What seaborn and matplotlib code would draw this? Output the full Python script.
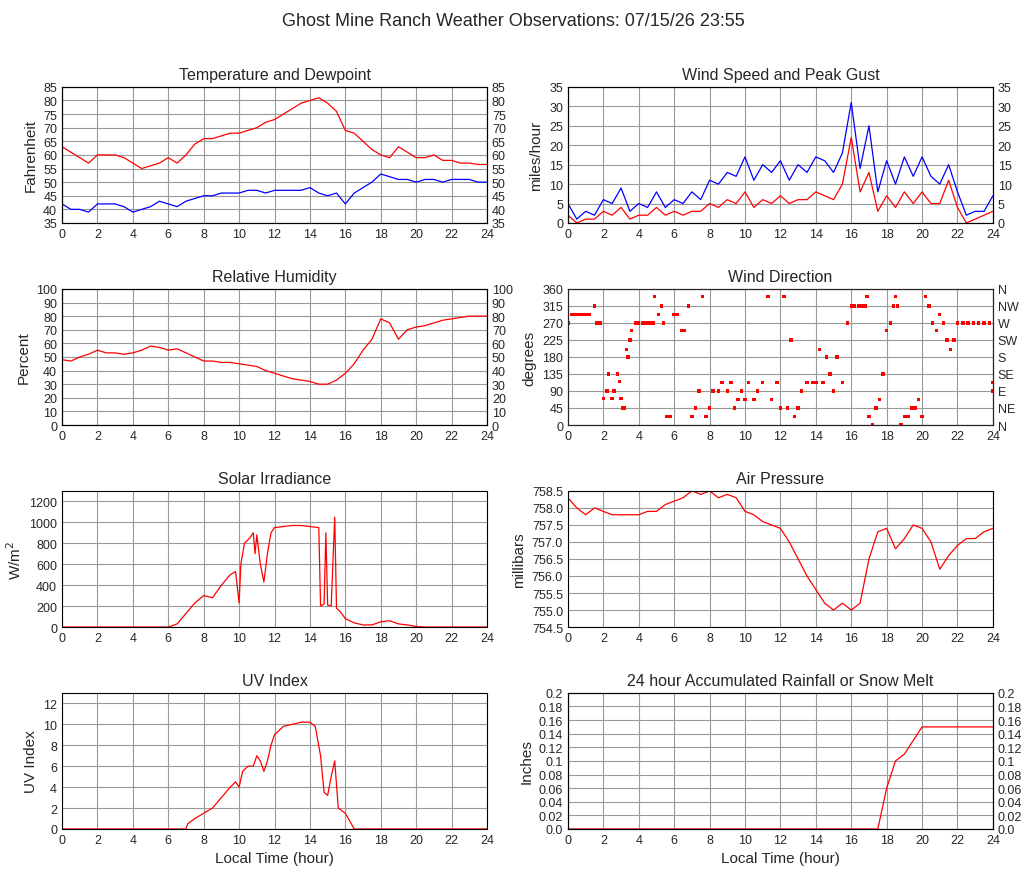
import matplotlib
matplotlib.use("Agg")
import matplotlib.pyplot as plt
import seaborn as sns
import numpy as np

sns.set_style("white")
plt.rcParams['font.family'] = ['Liberation Sans', 'DejaVu Sans']

H = [i*0.5 for i in range(49)]
temp = [63,61,59,57,60,60,60,59,57,55,56,57,59,57,60,64,66,66,67,68,68,69,70,72,73,75,77,79,80,81,79,76,69,68,65,62,60,59,63,61,59,59,60,58,58,57,57,56.5,56.5]
dew = [42,40,40,39,42,42,42,41,39,40,41,43,42,41,43,44,45,45,46,46,46,47,47,46,47,47,47,47,48,46,45,46,42,46,48,50,53,52,51,51,50,51,51,50,51,51,51,50,50]
gust = [5,1,3,2,6,5,9,3,5,4,8,4,6,5,8,6,11,10,13,12,17,11,15,13,16,11,15,13,17,16,13,18,31,14,25,8,16,10,17,12,17,12,10,15,8,2,3,3,7]
speed = [2,0,1,1,3,2,4,1,2,2,4,2,3,2,3,3,5,4,6,5,8,4,6,5,7,5,6,6,8,7,6,10,22,8,13,3,7,4,8,5,8,5,5,11,4,0,1,2,3]
rh = [48,47,50,52,55,53,53,52,53,55,58,57,55,56,53,50,47,47,46,46,45,44,43,40,38,36,34,33,32,30,30,33,38,45,55,63,78,75,63,70,72,73,75,77,78,79,80,80,80]
pres = [758.3,758,757.8,758,757.9,757.8,757.8,757.8,757.8,757.9,757.9,758.1,758.2,758.3,758.5,758.4,758.5,758.3,758.4,758.3,757.9,757.8,757.6,757.5,757.4,757,756.5,756,755.6,755.2,755,755.2,755,755.2,756.5,757.3,757.4,756.8,757.1,757.5,757.4,757,756.2,756.6,756.9,757.1,757.1,757.3,757.4]

dir_t = [0,0.2,0.4,0.6,0.8,1.0,1.2,1.5,1.6,1.8,2.0,2.2,2.3,2.5,2.6,2.8,2.9,3.0,3.1,3.2,3.3,3.4,3.5,3.6,3.8,4.0,4.2,4.4,4.6,4.8,4.9,5.1,5.3,5.4,5.6,5.8,6.0,6.2,6.4,6.6,6.8,7.0,7.2,7.4,7.6,7.8,8.0,8.2,8.5,8.7,9.0,9.2,9.4,9.6,9.8,10.0,10.2,10.5,10.7,11.0,11.3,11.5,11.8,12.0,12.2,12.4,12.6,12.8,13.0,13.2,13.5,13.8,14.0,14.2,14.4,14.6,14.8,15.0,15.2,15.5,15.8,16.0,16.2,16.4,16.6,16.8,16.9,17.0,17.2,17.4,17.6,17.8,18.0,18.2,18.4,18.5,18.6,18.8,19.0,19.2,19.4,19.6,19.8,20.0,20.2,20.4,20.6,20.8,21.0,21.2,21.4,21.6,21.8,22.0,22.3,22.6,22.9,23.2,23.5,23.8,24.0,24.0]
dir_d = [270,292,292,292,292,292,292,315,270,270,70,90,135,70,90,135,115,70,45,45,200,180,225,250,270,270,270,270,270,270,340,292,315,270,22,22,292,292,250,250,315,22,45,90,340,22,45,90,90,112,90,112,45,67,90,67,112,67,90,112,340,67,112,45,340,45,225,22,45,90,112,112,112,200,112,180,135,90,180,112,270,315,315,315,315,315,340,22,0,45,67,135,250,270,315,340,315,0,22,22,45,45,67,22,340,315,270,250,292,270,225,200,225,270,270,270,270,270,270,270,112,90]

sol_t = [0,6,6.5,7,7.5,8,8.5,9,9.5,9.8,10,10.1,10.3,10.6,10.8,10.9,11,11.2,11.4,11.6,11.8,12,12.5,13,13.5,14,14.5,14.6,14.8,14.9,15,15.2,15.4,15.5,15.7,16,16.5,17,17.5,18,18.5,19,19.5,20,20.5,24]
sol = [0,0,30,130,230,300,280,400,500,530,230,600,800,850,900,700,880,600,430,700,900,950,960,970,970,960,950,200,220,900,210,200,1050,180,150,80,40,20,20,50,60,30,20,5,0,0]

uv_t = [0,7,7.1,7.5,8,8.5,9,9.5,9.8,10,10.2,10.5,10.8,11,11.2,11.4,11.6,11.8,12,12.5,13,13.5,14,14.3,14.6,14.8,15,15.2,15.4,15.6,16,16.5,24]
uv = [0,0,0.5,1,1.5,2,3,4,4.5,4,5.5,6,6,7,6.5,5.5,6.5,8,9,9.8,10,10.2,10.2,9.8,7,3.5,3.2,5,6.5,2,1.5,0,0]

rain_t = [0,17.5,18,18.5,19,19.5,20,24]
rain = [0,0,0.06,0.1,0.11,0.13,0.15,0.15]

fig = plt.figure(figsize=(10.27, 8.78), dpi=100)
fig.suptitle("Ghost Mine Ranch Weather Observations: 07/15/26 23:55", y=0.985, fontsize=13)
L, R, W, Hh = 0.0604, 0.553, 0.4138, 0.155
B = [0.7449, 0.5148, 0.2847, 0.0547]

def mk(x, y, title, ylab, ylim, yt, right=True, xlabel=False, ytl=None):
    ax = fig.add_axes([x, y, W, Hh])
    ax.set_xlim(0, 24); ax.set_ylim(*ylim)
    ax.set_xticks(range(0, 25, 2)); ax.set_yticks(yt)
    if ytl is not None:
        ax.set_yticklabels(ytl)
    ax.grid(True, color='#999999', lw=0.8)
    for s in ax.spines.values():
        s.set_color('black'); s.set_linewidth(0.8)
    ax.tick_params(length=0, labelsize=9)
    ax.set_title(title, fontsize=11.5, pad=6)
    ax.set_ylabel(ylab, fontsize=11)
    if xlabel:
        ax.set_xlabel("Local Time (hour)", fontsize=11)
    if right:
        a2 = ax.twinx(); a2.set_ylim(*ylim); a2.set_yticks(yt)
        if ytl is not None:
            a2.set_yticklabels(ytl)
        a2.tick_params(length=0, labelsize=9)
        for s in a2.spines.values():
            s.set_color('black'); s.set_linewidth(0.8)
    return ax

ax = mk(L, B[0], "Temperature and Dewpoint", "Fahrenheit", (35, 85), range(35, 86, 5))
sns.lineplot(x=H, y=temp, ax=ax, color='red', lw=0.9)
sns.lineplot(x=H, y=dew, ax=ax, color='blue', lw=0.9)

ax = mk(R, B[0], "Wind Speed and Peak Gust", "miles/hour", (0, 35), range(0, 36, 5))
sns.lineplot(x=H, y=gust, ax=ax, color='blue', lw=0.9)
sns.lineplot(x=H, y=speed, ax=ax, color='red', lw=0.9)

ax = mk(L, B[1], "Relative Humidity", "Percent", (0, 100), range(0, 101, 10))
sns.lineplot(x=H, y=rh, ax=ax, color='red', lw=0.9)

ax = mk(R, B[1], "Wind Direction", "degrees", (0, 360), range(0, 361, 45), right=False)
sns.scatterplot(x=dir_t, y=dir_d, ax=ax, color='red', marker='s', s=6, edgecolor='none')
a2 = ax.twinx(); a2.set_ylim(0, 360); a2.set_yticks(range(0, 361, 45))
a2.set_yticklabels(['N', 'NE', 'E', 'SE', 'S', 'SW', 'W', 'NW', 'N'])
a2.tick_params(length=0, labelsize=9)

ax = mk(L, B[2], "Solar Irradiance", "W/m$^2$", (0, 1300), range(0, 1201, 200), right=False)
sns.lineplot(x=sol_t, y=sol, ax=ax, color='red', lw=0.9)

pt = list(np.arange(754.5, 758.51, 0.5))
ax = mk(R, B[2], "Air Pressure", "millibars", (754.5, 758.5), pt, right=False, ytl=['%.1f' % v for v in pt])
sns.lineplot(x=H, y=pres, ax=ax, color='red', lw=0.9)

ax = mk(L, B[3], "UV Index", "UV Index", (0, 13), range(0, 13, 2), right=False, xlabel=True)
sns.lineplot(x=uv_t, y=uv, ax=ax, color='red', lw=0.9)

rt = [round(v, 2) for v in np.arange(0, 0.201, 0.02)]
ax = mk(R, B[3], "24 hour Accumulated Rainfall or Snow Melt", "Inches", (0, 0.2), rt, xlabel=True, ytl=['0.0'] + ['%g' % v for v in rt[1:]])
sns.lineplot(x=rain_t, y=rain, ax=ax, color='red', lw=0.9)

fig.savefig("out.png", dpi=100)
